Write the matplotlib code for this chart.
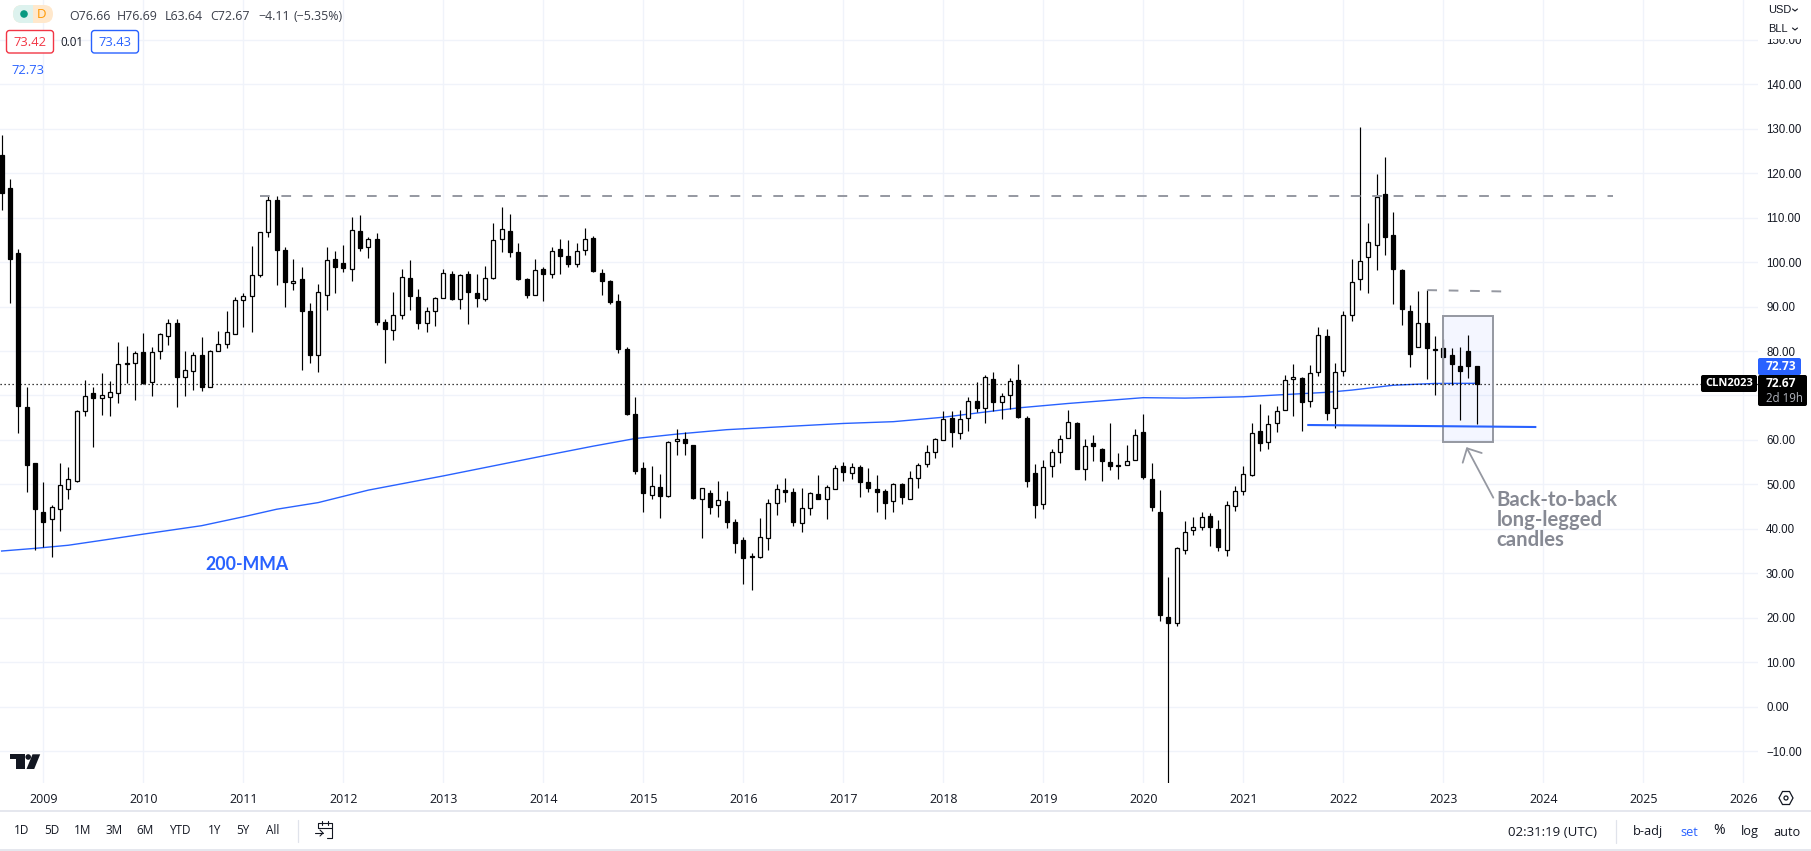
import matplotlib
matplotlib.use('Agg')
import matplotlib.pyplot as plt
from matplotlib.lines import Line2D
from matplotlib.patches import Circle, FancyBboxPatch, Polygon, Rectangle

W, H = 1811, 851
AXIS_RIGHT, AXIS_BOTTOM = 1758, 783

BLUE = '#2962FF'
GRAY = '#9598A1'
DARK = '#131722'
GRID = '#F0F3FA'

first_year = 2008
first_month = 8

opens = [124.1, 116.7, 102.1, 67.4, 54.7, 43.7, 42.1, 44.4, 48.9, 50.8, 66.5, 70.5, 69.4, 69.6, 70.5,
         77.2, 77.4, 79.8, 73.0, 80.0, 83.4, 86.3, 74.1, 75.5, 79.1, 71.9, 80.0, 81.6, 83.8, 91.5,
         92.4, 97.1, 106.8, 114.0, 102.7, 95.3, 96.3, 88.9, 79.1, 92.7, 100.7, 99.8, 98.5, 107.0, 103.4,
         105.1, 86.6, 84.7, 88.1, 96.5, 92.2, 86.3, 89.0, 92.0, 97.4, 91.7, 97.4, 93.1, 91.7, 96.5,
         105.3, 107.1, 102.3, 96.2, 92.6, 98.5, 97.4, 103.0, 101.4, 99.6, 102.8, 105.5, 97.6, 95.8, 91.3,
         80.5, 65.8, 53.7, 47.5, 49.4, 47.3, 59.8, 60.2, 58.9, 46.7, 48.1, 45.4, 46.3, 41.6, 37.5,
         33.7, 33.6, 38.0, 45.8, 48.8, 48.3, 41.3, 44.7, 47.9, 46.7, 49.0, 54.2, 52.6, 53.9, 50.6,
         49.0, 48.5, 46.3, 50.1, 46.7, 51.5, 54.6, 57.3, 60.0, 65.0, 61.5, 64.9, 68.7, 67.1, 73.7,
         68.5, 70.2, 73.5, 64.9, 52.5, 45.6, 54.1, 57.3, 60.5, 63.7, 53.5, 59.3, 58.0, 55.0, 54.3,
         54.4, 55.5, 61.8, 51.2, 43.8, 20.1, 18.9, 35.2, 39.8, 40.3, 42.9, 39.9, 35.2, 45.1, 48.5,
         52.0, 62.0, 59.5, 63.8, 66.8, 73.8, 74.0, 68.8, 75.2, 83.3, 67.1, 75.6, 88.2, 96.1, 101.2,
         103.9, 115.4, 106.0, 98.3, 88.9, 81.0, 86.4, 80.4, 80.6, 79.0, 76.7, 80.1, 76.66]
highs = [128.6, 118.8, 103.0, 72.0, 54.7, 50.5, 45.3, 54.7, 53.8, 66.7, 73.5, 72.0, 75.1, 73.3, 82.0,
         81.2, 80.0, 84.1, 80.9, 84.1, 87.2, 87.2, 80.0, 79.8, 83.2, 80.2, 84.6, 88.9, 92.2, 93.1,
         103.7, 106.8, 114.8, 114.8, 103.4, 100.8, 98.8, 90.7, 95.0, 103.4, 102.6, 103.9, 110.2, 110.6, 105.7,
         106.6, 87.2, 93.3, 98.5, 100.5, 93.9, 89.9, 92.2, 98.5, 98.1, 97.4, 97.9, 97.4, 99.2, 108.9,
         112.3, 110.8, 104.4, 96.5, 100.8, 99.0, 103.5, 105.3, 105.0, 104.4, 107.6, 105.9, 98.5, 95.9, 92.9,
         81.0, 69.6, 55.1, 54.2, 52.4, 59.8, 62.5, 61.8, 58.9, 49.2, 48.8, 50.8, 48.5, 42.2, 38.2,
         34.5, 42.5, 46.7, 50.1, 51.5, 49.2, 49.2, 48.3, 52.2, 49.9, 54.4, 55.1, 54.8, 54.4, 53.7,
         52.0, 49.0, 50.3, 50.3, 52.9, 54.8, 58.9, 60.4, 66.6, 66.5, 66.8, 69.7, 73.1, 74.6, 75.3,
         70.5, 73.9, 77.1, 65.3, 54.5, 55.4, 58.0, 61.0, 66.8, 64.1, 60.1, 61.1, 58.2, 63.7, 57.1,
         58.9, 62.5, 65.9, 54.8, 48.8, 29.2, 35.9, 41.7, 42.6, 43.8, 43.5, 42.0, 46.2, 49.7, 54.1,
         63.8, 68.1, 65.6, 67.7, 74.7, 77.1, 74.2, 76.9, 85.3, 85.0, 77.4, 88.9, 100.6, 130.5, 108.9,
         119.9, 123.7, 111.3, 98.5, 90.4, 93.6, 93.8, 83.3, 82.6, 80.6, 81.0, 83.5, 76.69]
lows = [111.7, 90.8, 61.5, 48.3, 35.3, 35.8, 33.7, 39.5, 46.8, 50.6, 65.3, 58.5, 65.5, 65.3, 68.2,
        72.8, 68.9, 72.6, 69.8, 78.3, 81.4, 67.3, 69.8, 71.3, 70.9, 71.9, 80.0, 80.6, 83.8, 85.3,
        84.2, 96.6, 105.6, 94.8, 89.9, 93.7, 75.8, 77.4, 75.2, 89.3, 93.0, 97.7, 95.7, 102.5, 100.9,
        85.9, 77.4, 82.4, 87.2, 89.2, 85.0, 84.2, 85.6, 92.0, 91.5, 89.4, 86.0, 90.0, 91.2, 96.1,
        102.3, 101.1, 95.9, 91.9, 92.6, 91.2, 96.4, 97.3, 98.9, 98.9, 101.6, 97.7, 92.5, 90.5, 79.5,
        65.7, 52.4, 43.7, 46.7, 42.4, 47.2, 56.5, 56.7, 46.7, 37.9, 43.3, 42.6, 40.1, 34.5, 27.6,
        26.2, 33.4, 35.2, 43.1, 46.0, 40.6, 39.3, 43.1, 46.6, 42.2, 49.0, 50.7, 51.2, 47.1, 48.2,
        43.7, 42.2, 43.7, 45.5, 46.7, 49.1, 53.9, 55.9, 60.0, 58.3, 60.1, 62.1, 66.2, 63.8, 66.4,
        64.6, 67.0, 65.0, 49.5, 42.5, 44.5, 51.6, 54.7, 60.5, 53.5, 50.9, 55.2, 50.7, 53.2, 51.1,
        54.4, 55.5, 51.1, 44.1, 19.3, -37.6, 18.2, 34.4, 38.6, 39.8, 36.2, 35.1, 33.8, 44.1, 47.5,
        51.8, 57.4, 57.9, 61.7, 66.8, 65.3, 62.0, 67.4, 74.4, 64.5, 62.6, 74.4, 86.8, 93.7, 93.1,
        98.2, 101.6, 90.6, 85.9, 76.4, 81.0, 73.8, 70.1, 72.7, 72.4, 64.5, 74.0, 63.64]
closes = [115.5, 100.7, 67.7, 54.4, 44.5, 41.6, 44.8, 49.8, 51.1, 66.5, 69.8, 69.5, 70.1, 70.8, 77.1,
          77.0, 79.5, 72.8, 79.8, 83.8, 86.3, 74.1, 75.7, 79.1, 72.0, 80.0, 81.6, 84.3, 91.4, 92.4,
          97.1, 106.8, 114.0, 102.7, 95.5, 95.8, 88.9, 79.2, 93.3, 100.5, 98.9, 98.6, 107.2, 103.1, 105.1,
          86.5, 84.9, 88.1, 96.7, 92.4, 86.3, 89.0, 92.0, 97.5, 91.7, 97.1, 93.2, 92.0, 96.5, 105.0,
          107.5, 102.3, 96.1, 92.6, 98.3, 97.3, 102.6, 101.4, 99.6, 102.6, 105.3, 97.9, 95.7, 91.0, 80.4,
          65.9, 53.0, 48.0, 49.6, 47.3, 59.6, 60.2, 59.3, 46.9, 49.1, 44.9, 46.5, 41.5, 36.8, 33.4,
          33.8, 38.2, 45.8, 49.0, 48.2, 41.5, 44.7, 48.1, 46.7, 49.4, 53.7, 52.7, 53.9, 50.6, 49.1,
          48.2, 45.8, 50.1, 47.1, 51.5, 54.4, 57.3, 60.2, 64.7, 61.7, 64.8, 68.7, 67.1, 74.1, 68.6,
          69.8, 73.2, 65.2, 50.8, 45.4, 53.8, 57.2, 60.2, 64.1, 53.5, 58.6, 58.6, 55.2, 54.1, 54.2,
          55.2, 61.1, 51.6, 44.8, 20.5, 18.9, 35.6, 39.2, 40.4, 42.6, 40.3, 35.8, 45.3, 48.5, 52.3,
          61.6, 59.2, 63.6, 66.5, 73.4, 74.2, 68.6, 75.1, 83.5, 66.1, 75.2, 88.2, 95.6, 100.3, 104.6,
          114.7, 105.7, 98.5, 89.5, 79.4, 86.4, 80.6, 80.3, 78.7, 77.0, 75.6, 76.7, 72.67]

# 200-month average, read at these bar numbers
ma_bars = [0, 4, 8, 12, 17, 24, 29, 33, 38, 44, 53, 65, 71, 76, 81, 87, 101, 107, 113, 122, 128, 137, 142,
           149, 154, 159, 162, 167, 172, 177]
ma_values = [35.0, 35.6, 36.3, 37.4, 38.8, 40.7, 42.7, 44.4, 45.9, 48.7, 51.9, 56.4, 58.6, 60.3, 61.3, 62.3,
             63.7, 64.1, 65.1, 67.2, 68.2, 69.5, 69.4, 69.7, 70.2, 70.7, 71.2, 72.3, 72.7, 72.73]

year_ticks = list(range(2009, 2027))
price_ticks = [-10, 0, 10, 20, 30, 40, 50, 60, 70, 80, 90, 100, 110, 120, 130, 140, 150]
last_close = 72.67
upper_level = 114.8
mid_level = [93.7, 93.4]
support_level = [63.35, 62.9]
box_low, box_high = 59.5, 87.9
periods = ['1D', '5D', '1M', '3M', '6M', 'YTD', '1Y', '5Y', 'All']
period_x = [22, 52, 83, 114, 145, 180, 215, 243, 273]


def bar_year(n):
    return first_year + (first_month - 1 + n) / 12


def fx(px):
    return px / W


def fy(py):
    return 1 - py / H


def ftext(px, py, s, size=8.9, color=DARK, ha='left', family='Open Sans', weight='normal', zorder=10):
    return fig.text(fx(px), fy(py), s, fontsize=size, color=color, ha=ha, va='center',
                    family=family, fontweight=weight, zorder=zorder)


def fline(xs, ys, color=DARK, lw=1.0, zorder=10):
    fig.add_artist(Line2D([fx(x) for x in xs], [fy(y) for y in ys], color=color, lw=lw, zorder=zorder,
                          transform=fig.transFigure, solid_capstyle='round'))


def fbox(x0, y0, x1, y1, face, edge='none', lw=1.0, radius=0, zorder=8):
    if radius:
        patch = FancyBboxPatch((x0, H - y1), x1 - x0, y1 - y0, boxstyle='round,pad=0,rounding_size=%s' % radius,
                               facecolor=face, edgecolor=edge, linewidth=lw, zorder=zorder, transform=pix)
    else:
        patch = Rectangle((x0, H - y1), x1 - x0, y1 - y0, facecolor=face, edgecolor=edge, linewidth=lw,
                          zorder=zorder, transform=pix)
    fig.add_artist(patch)


fig = plt.figure(figsize=(W / 100, H / 100), dpi=100, facecolor='white')
pix = matplotlib.transforms.Affine2D().scale(1 / W, 1 / H) + fig.transFigure
ax = fig.add_axes([0, 1 - AXIS_BOTTOM / H, AXIS_RIGHT / W, AXIS_BOTTOM / H])

ax.set_xlim(2009 - 43.3 / 100, 2009 + (AXIS_RIGHT - 43.3) / 100)
ax.set_ylim(140 - (AXIS_BOTTOM - 84.3) / 4.445, 140 + 84.3 / 4.445)
for side in ax.spines:
    ax.spines[side].set_visible(False)

ax.set_xticks(year_ticks)
ax.set_xticklabels([str(y) for y in year_ticks], fontsize=9, family='Open Sans', color=DARK)
ax.set_yticks(price_ticks)
# the 70 label sits under the price tags in the original
ax.set_yticklabels(['' if p == 70 else ('%.2f' % p).replace('-', '\u2212') for p in price_ticks], fontsize=8.3,
                   family='Liberation Sans', color=DARK)
ax.get_yticklabels()[-1].set_color('#B8BBC4')
ax.yaxis.tick_right()
ax.tick_params(axis='x', length=0, pad=7)
ax.tick_params(axis='y', length=0, pad=5.8)
ax.grid(True, color=GRID, lw=1.0)
ax.set_axisbelow(True)

# shaded box behind the candles
ax.add_patch(Rectangle((bar_year(173), box_low), bar_year(179) - bar_year(173), box_high - box_low,
                       facecolor=BLUE, alpha=0.05, edgecolor='none', zorder=1))

ax.plot([bar_year(n) for n in ma_bars], ma_values, color=BLUE, lw=1.0, zorder=2)
ax.axhline(last_close, color='black', lw=0.9, ls=(0, (1, 2.2)), zorder=2)

xs = [bar_year(n) for n in range(len(opens))]
body_w = 4.0 / 100
ax.vlines(xs, lows, highs, color='black', lw=0.85, zorder=3)
for x, o, c in zip(xs, opens, closes):
    face = 'white' if c >= o else 'black'
    ax.bar(x, abs(c - o), width=body_w, bottom=min(o, c), facecolor=face, edgecolor='black', linewidth=0.9, zorder=4)

# drawings on top of the candles
ax.add_patch(Rectangle((bar_year(173), box_low), bar_year(179) - bar_year(173), box_high - box_low,
                       facecolor='none', edgecolor=GRAY, linewidth=1.4, zorder=5))
ax.plot([2011.165, 2024.7], [upper_level, upper_level], color=GRAY, lw=1.4, ls=(0, (5, 6)), zorder=5)
ax.plot([2022.84, 2023.59], mid_level, color=GRAY, lw=1.4, ls=(0, (5, 6)), zorder=5)
ax.plot([2021.65, 2023.92], support_level, color=BLUE, lw=1.5, zorder=5)

ftext(205, 565, '200-MMA', size=12.8, color=BLUE, family='Lato', weight='bold')
ftext(1496.5, 500, 'Back-to-back', size=14.6, color='#868993', family='Lato', weight='bold')
ftext(1496.5, 520, 'long-legged', size=14.6, color='#868993', family='Lato', weight='bold')
ftext(1496.5, 540, 'candles', size=14.6, color='#868993', family='Lato', weight='bold')
fline([1493.3, 1467], [497.7, 448.3], color=GRAY, lw=1.3)
fline([1462.7, 1467, 1481.7], [462.7, 448.3, 453], color=GRAY, lw=1.3)

# header
fbox(13, 5, 53, 23, '#FFE8CC', radius=9)
fbox(22, 5, 33, 23, '#DDF2EE', radius=0, zorder=8.5)
fbox(13, 5, 30, 23, '#DDF2EE', radius=9, zorder=8.6)
fig.add_artist(Circle((24, H - 14), 3.8, facecolor='#089981', edgecolor='none', zorder=9, transform=pix))
ftext(42, 14.5, 'D', size=9.5, color='#FF9800', ha='center')
for x, s in zip([69, 117, 165, 210, 258, 294],
                ['O76.66', 'H76.69', 'L63.64', 'C72.67', '\u22124.11', '(\u22125.35%)']):
    ftext(x, 16, s, color='#3B3F4A')
fbox(6.5, 30.5, 53.5, 53, 'white', edge='#F23645', lw=1.0, radius=3)
ftext(30, 42, '73.42', color='#F23645', ha='center', size=9.4)
ftext(72, 42, '0.01', color=DARK, ha='center', size=8.3)
fbox(91.5, 30.5, 138.5, 53, 'white', edge=BLUE, lw=1.0, radius=3)
ftext(115, 42, '73.43', color=BLUE, ha='center', size=9.4)
ftext(28, 71, '72.73', color=BLUE, ha='center', size=9.4)

# price scale corner: hides the top of the 150 label
fbox(1758, 0, W, 39, 'white', zorder=8)
ftext(1768, 10, 'USD', size=7.9, family='Liberation Sans')
ftext(1768, 29, 'BLL', size=7.9, family='Liberation Sans')
fline([1792.5, 1795, 1797.5], [9, 11, 9], lw=0.8)
fline([1792.5, 1795, 1797.5], [28, 30, 28], lw=0.8)

# price tags
fbox(1758, 358, 1801, 375, BLUE, radius=2)
ftext(1766, 367, '72.73', color='white', size=8.6, family='Open Sans', weight='bold')
fbox(1758, 375, 1807, 406, 'black', radius=2)
ftext(1766, 384, '72.67', color='white', size=8.6, family='Open Sans', weight='bold')
ftext(1766, 398, '2d 19h', color='#B2B5BE', size=8.3)
fbox(1701, 375, 1757, 392, 'black', radius=2)
ftext(1729, 383.5, 'CLN2023', color='white', size=8.0, ha='center', weight='bold')

# logo
fig.add_artist(Polygon([(9.6, H - 754.3), (24.9, H - 754.3), (24.9, H - 769), (15.7, H - 769), (15.7, H - 759.3),
                        (9.6, H - 759.3)], facecolor=DARK, edgecolor='none', zorder=9, transform=pix))
fig.add_artist(Circle((28.2, H - 757), 2.8, facecolor=DARK, edgecolor='none', zorder=9, transform=pix))
fig.add_artist(Polygon([(32.5, H - 754.3), (40.2, H - 754.3), (34.2, H - 769), (26.5, H - 769)],
                       facecolor=DARK, edgecolor='none', zorder=9, transform=pix))

# gear on the time scale
fig.add_artist(Polygon([(1779, H - 798), (1782.5, H - 791.5), (1789.5, H - 791.5), (1793, H - 798), (1789.5, H - 804.5),
                        (1782.5, H - 804.5)], facecolor='white', edgecolor=DARK, lw=0.9, zorder=9, transform=pix))
fig.add_artist(Circle((1786, H - 798), 2.0, facecolor='white', edgecolor=DARK, lw=0.9, zorder=9, transform=pix))

# bottom toolbar
fline([0, W], [811, 811], color='#E0E3EB', lw=1.2)
fline([0, W], [850, 850], color='#E0E3EB', lw=1.2)
for x, s in zip(period_x, periods):
    ftext(x, 831, s, size=8.5, ha='center')
fline([298, 298], [820, 842], color='#E0E3EB', lw=0.9)
fline([318, 318, 332, 332, 327], [828, 823, 823, 838, 838], lw=0.8)
fline([318, 332], [827.5, 827.5], lw=0.8)
fline([322, 322], [821, 824.5], lw=0.8)
fline([328, 328], [821, 824.5], lw=0.8)
fline([315, 323], [833, 833], lw=0.8)
fline([320, 323, 320], [830, 833, 836], lw=0.8)
ftext(1552, 832, '02:31:19 (UTC)', size=9.5, ha='center')
fline([1616, 1616], [820, 843], color='#E0E3EB', lw=0.9)
ftext(1648, 832, 'b-adj', size=9.2, ha='center')
ftext(1689, 832, 'set', size=9.2, ha='center', color=BLUE)
ftext(1719, 831, '%', size=10, ha='center')
ftext(1750, 832, 'log', size=9.2, ha='center')
ftext(1787, 832, 'auto', size=9.2, ha='center')

fig.savefig('out.png', dpi=100, facecolor='white')
